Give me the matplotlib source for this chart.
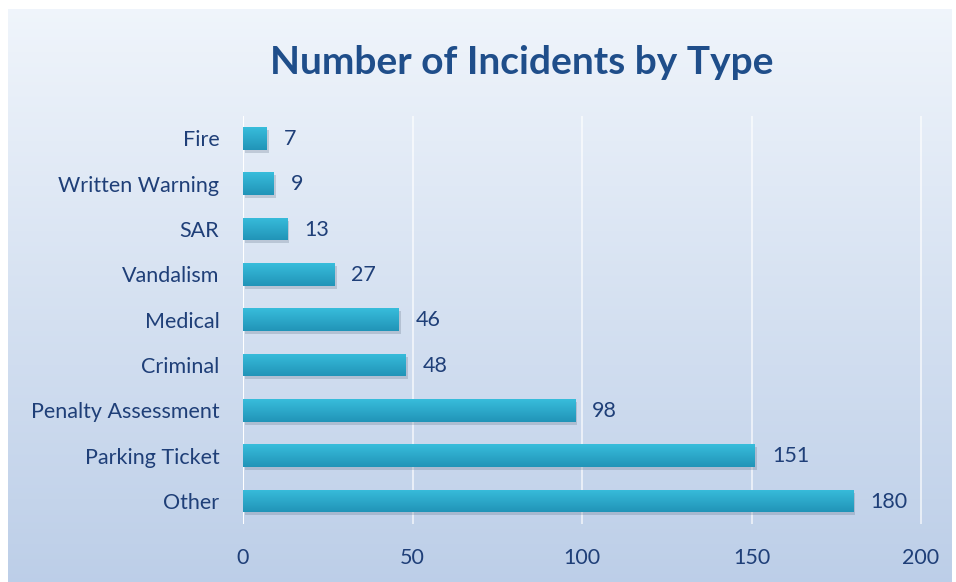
import numpy as np
import matplotlib.pyplot as plt
from matplotlib.patches import Rectangle

# data
categories = ['Other', 'Parking Ticket', 'Penalty Assessment', 'Criminal', 'Medical',
              'Vandalism', 'SAR', 'Written Warning', 'Fire']
counts = [180, 151, 98, 48, 46, 27, 13, 9, 7]
xticks = [0, 50, 100, 150, 200]

navy = '#1f3f78'
plt.rcParams['font.family'] = ['Lato', 'DejaVu Sans']

fig = plt.figure(figsize=(9.56, 5.82), dpi=100)
fig.patch.set_facecolor('white')

# background panel with vertical gradient
bg = fig.add_axes([8 / 956, 0, 944 / 956, 573 / 582])
grad = np.linspace(0, 1, 256).reshape(-1, 1)
top = np.array([0.94, 0.96, 0.985])
bot = np.array([0.74, 0.81, 0.91])
img = top + (bot - top) * grad[..., None]
bg.imshow(img, aspect='auto', extent=[0, 1, 0, 1])
bg.set_axis_off()

# plot area
ax = fig.add_axes([243 / 956, 1 - 523.5 / 582, (921 - 243) / 956 * 1.03, 408 / 582])
ax.patch.set_alpha(0)
ax.set_xlim(0, 206)
ax.set_ylim(-0.5, len(categories) - 0.5)

for v in xticks[1:]:
    ax.axvline(v, color='white', lw=1.1, alpha=0.8, zorder=1)
ax.axvline(0, color='white', lw=1.5, zorder=1)

y = np.arange(len(categories))
h = 0.5
# soft shadow under each bar
for yi, c in zip(y, counts):
    ax.add_patch(Rectangle((0.6, yi - h / 2 - 0.07), c, h, color='#5a6a80', alpha=0.25,
                           lw=0, zorder=2))
bars = ax.barh(y, counts, height=h, color='#2eaccc', zorder=3)

# gradient on the bars
bar_grad = np.linspace(0, 1, 64).reshape(-1, 1)
light = np.array([0.22, 0.74, 0.86])
dark = np.array([0.13, 0.58, 0.72])
bar_img = light + (dark - light) * bar_grad[..., None]
for b in bars:
    x0, y0 = b.get_x(), b.get_y()
    w, hh = b.get_width(), b.get_height()
    im = ax.imshow(bar_img, aspect='auto', extent=[x0, x0 + w, y0, y0 + hh], zorder=3.5)
    im.set_clip_path(b)

for yi, c in zip(y, counts):
    ax.text(c + 5, yi - 0.02, str(c), va='center', ha='left', fontsize=15.5, color=navy)

ax.set_yticks(y)
ax.set_yticklabels(categories, fontsize=15.5, color=navy)
ax.set_xticks(xticks)
ax.set_xticklabels([str(t) for t in xticks], fontsize=15.5, color=navy)
ax.tick_params(length=0)
ax.tick_params(axis='y', pad=17)
ax.tick_params(axis='x', pad=18)
for s in ax.spines.values():
    s.set_visible(False)

fig.text(522 / 956, 1 - 62 / 582, 'Number of Incidents by Type', ha='center', va='center',
         fontsize=28, fontweight='bold', color='#1f4e8a')

fig.savefig('out.png', dpi=100)
